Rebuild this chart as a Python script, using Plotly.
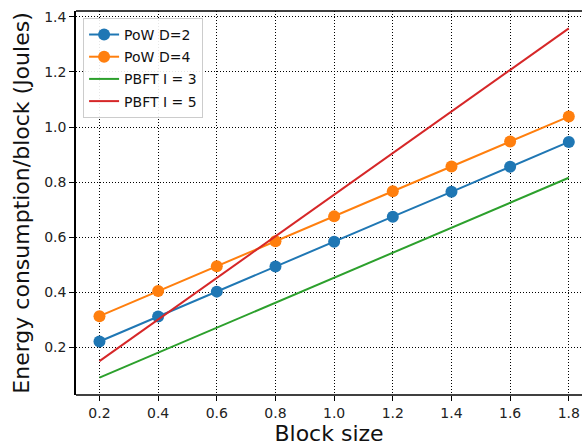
import plotly.graph_objects as go

block_size = [0.2, 0.4, 0.6, 0.8, 1.0, 1.2, 1.4, 1.6, 1.8]
pow_d2 = [0.222, 0.313, 0.403, 0.494, 0.584, 0.675, 0.765, 0.856, 0.946]
pow_d4 = [0.314, 0.405, 0.495, 0.586, 0.676, 0.767, 0.857, 0.948, 1.038]
pbft_i3 = [0.091, 0.182, 0.272, 0.363, 0.453, 0.544, 0.635, 0.725, 0.816]
pbft_i5 = [0.151, 0.302, 0.453, 0.604, 0.755, 0.906, 1.057, 1.208, 1.358]

x_ticks = [0.2, 0.4, 0.6, 0.8, 1.0, 1.2, 1.4, 1.6, 1.8]
y_ticks = [0.2, 0.4, 0.6, 0.8, 1.0, 1.2, 1.4]

font_family = "DejaVu Sans"

fig = go.Figure()
fig.add_trace(go.Scatter(x=block_size, y=pow_d2, mode="lines+markers", name="PoW D=2", legendgroup="a",
                         line=dict(color="#1f77b4", width=2), marker=dict(size=12, color="#1f77b4")))
fig.add_trace(go.Scatter(x=block_size, y=pow_d4, mode="lines+markers", name="PoW D=4", legendgroup="b",
                         line=dict(color="#ff7f0e", width=2), marker=dict(size=12, color="#ff7f0e")))
fig.add_trace(go.Scatter(x=block_size, y=pbft_i3, mode="lines", name="PBFT I = 3", legendgroup="c",
                         line=dict(color="#2ca02c", width=2)))
fig.add_trace(go.Scatter(x=block_size, y=pbft_i5, mode="lines", name="PBFT I = 5", legendgroup="d",
                         line=dict(color="#d62728", width=2)))

axis_common = dict(
    showgrid=True, gridcolor="black", gridwidth=1, griddash="1px,2px",
    ticks="outside", ticklen=5, tickwidth=1, tickcolor="black",
    tickfont=dict(family=font_family, size=14, color="#222222"),
    zeroline=False, automargin=False,
)

fig.update_layout(
    width=582, height=446,
    margin=dict(l=76, r=0, t=11, b=51),
    plot_bgcolor="white", paper_bgcolor="white",
    font=dict(family=font_family, color="black"),
    xaxis=dict(range=[0.12, 1.845], tickvals=x_ticks, ticktext=[f"{v:.1f}" for v in x_ticks],
               showline=False,
               title=dict(text="Block size", font=dict(family=font_family, size=22, color="#111111"), standoff=6),
               **axis_common),
    yaxis=dict(range=[0.028, 1.421], tickvals=y_ticks, ticktext=[f"{v:.1f}" for v in y_ticks],
               showline=True, linecolor="black", linewidth=1.5,
               title=dict(text="Energy consumption/block (Joules)", font=dict(family=font_family, size=22, color="#111111"), standoff=8),
               **axis_common),
    legend=dict(x=0.014, y=0.982, xanchor="left", yanchor="top",
                bgcolor="rgba(255,255,255,0.9)", bordercolor="#cccccc", borderwidth=1,
                font=dict(family=font_family, size=14, color="#111111"),
                tracegroupgap=1),
    showlegend=True,
)

# top and bottom spines
fig.add_shape(type="line", xref="paper", yref="paper", x0=0, x1=1, y0=1, y1=1,
              line=dict(color="black", width=1.5))
fig.add_shape(type="line", xref="paper", yref="paper", x0=0, x1=1, y0=0, y1=0,
              line=dict(color="black", width=1.5))

fig.write_html("out.html", config={"displayModeBar": False},
               post_script="document.body.style.margin='0';document.body.style.overflow='hidden';")
